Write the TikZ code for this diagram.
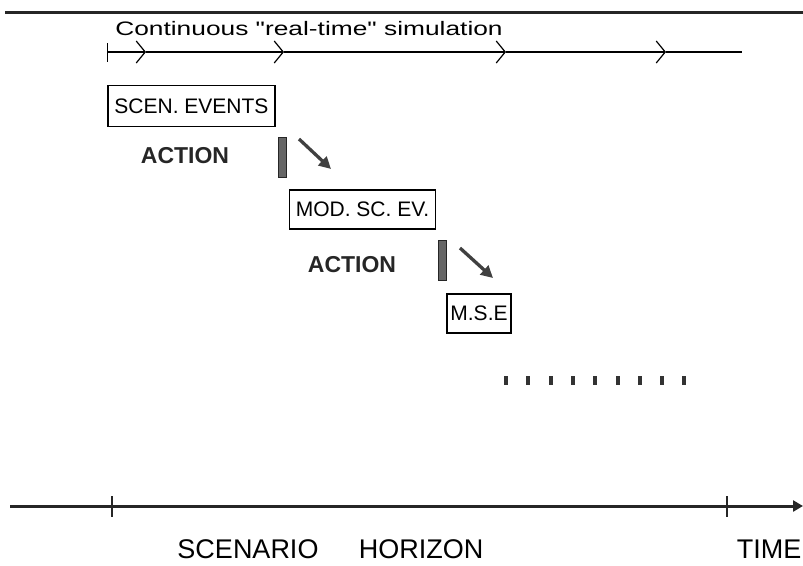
\documentclass[tikz,border=0pt]{standalone}
\usepackage{fontspec}
\setmainfont{Liberation Sans}
\newfontfamily\widefont[FakeStretch=1.35]{Liberation Sans}
\usetikzlibrary{arrows.meta}

\begin{document}
\begin{tikzpicture}[x=1pt, y=-1pt,
        box/.style={draw, line width=1.4pt, inner sep=0pt, font=\fontsize{21}{24}\selectfont},
        act/.style={font=\fontsize{23}{26}\selectfont\bfseries, text=black!85},
        bar/.style={draw=black!85, fill=black!60, line width=1pt, minimum width=8pt, minimum height=40pt, inner sep=0pt},
        push/.style={-{Triangle[length=12pt, width=12pt]}, line width=3.3pt, black!75},
        chev/.style={-{Straight Barb[length=9pt, width=22pt]}, line width=1.2pt},
        axis/.style={-{Triangle[length=10pt, width=11pt]}, line width=3pt, black!85},
        dot/.style={fill=black!80, minimum width=4pt, minimum height=9pt, inner sep=0pt},
        lab/.style={anchor=base, inner sep=0pt, font=\fontsize{27}{30}\selectfont}
    ]
        \useasboundingbox (0,0) rectangle (803,565);

        % Frame line
        \coordinate (fl) at (5,12);
        \coordinate (fr) at (803,12);
        \draw[line width=3pt, black!85] (fl) -- (fr);

        % Simulation time line
        \node[anchor=base, font=\widefont\fontsize{19.5}{22}\selectfont] (title) at (309,35) {Continuous "real-time" simulation};
        \coordinate (s0) at (107,52);
        \coordinate (c1) at (146,52);
        \coordinate (c2) at (284,52);
        \coordinate (c3) at (506,52);
        \coordinate (c4) at (666,52);
        \coordinate (s5) at (742,52);
        \draw[line width=1.2pt, {Bar[width=19pt]}-{Straight Barb[length=9pt, width=22pt]}] (s0) -- (c1);
        \draw[chev] (c1) -- (c2);
        \draw[chev] (c2) -- (c3);
        \draw[chev] (c3) -- (c4);
        \draw[line width=1.2pt] (c4) -- (s5);

        % Events and actions
        \node[box, minimum width=167pt, minimum height=41pt] (scen) at (191.5,106) {SCEN. EVENTS};
        \node[act] (act1) at (185,156) {ACTION};
        \node[bar] (bar1) at (282,157) {};
        \coordinate (p1s) at (299,139);
        \coordinate (p1e) at (331,169);
        \draw[push] (p1s) -- (p1e);

        \node[box, minimum width=146pt, minimum height=39pt] (modsc) at (362.5,209.5) {MOD. SC. EV.};
        \node[act] (act2) at (352,265) {ACTION};
        \node[bar] (bar2) at (442,260) {};
        \coordinate (p2s) at (460,248);
        \coordinate (p2e) at (493,278);
        \draw[push] (p2s) -- (p2e);

        \node[box, minimum width=64pt, minimum height=39pt] (mse) at (479,313.5) {M.S.E};

        % Dots
        \foreach \i in {0,...,8}
            \node[dot] (d\i) at (506+22.3*\i,380) {};

        % Time axis
        \coordinate (ax0) at (10,506);
        \coordinate (ax1) at (803,506);
        \draw[axis] (ax0) -- (ax1);
        \foreach \x in {112,727}
            \draw[line width=1.6pt, black!85] (\x,496) -- (\x,517);

        \node[lab] (scenario) at (248,558) {SCENARIO};
        \node[lab] (horizon) at (421,558) {HORIZON};
        \node[lab] (time) at (769,558) {TIME};

    \end{tikzpicture}
\end{document}
